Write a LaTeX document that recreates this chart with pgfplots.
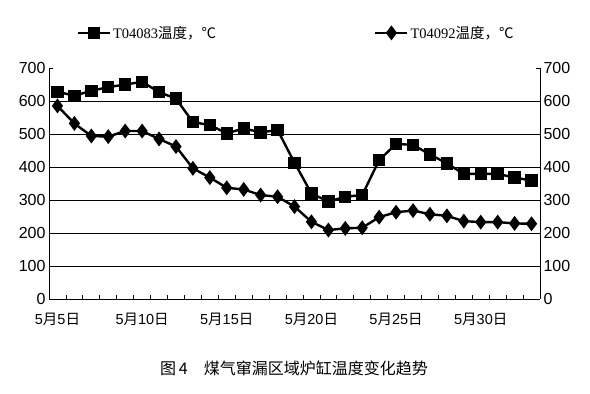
\documentclass[border=0pt]{standalone}
\usepackage{pgfplots}
\pgfplotsset{compat=1.18}
\usepackage{fontspec}
\setmainfont{Liberation Sans}
\newfontfamily\cjk{Noto Sans CJK SC}
\newfontfamily\lser{Liberation Serif}
\begin{document}
\begin{tikzpicture}
\useasboundingbox (0,0) rectangle (590bp,394bp);
\begin{axis}[
  at={(49bp,95bp)}, anchor=south west,
  scale only axis, width=491bp, height=231bp,
  xmin=0.5, xmax=29.5, ymin=0, ymax=700,
  axis x line*=bottom, axis y line*=left,
  axis line style={line width=0.8bp, black},
  tick align=inside,
  ytick={0,100,...,600}, extra y ticks={700},
  extra y tick style={grid=none},
  ymajorgrids, grid style={black, line width=0.8bp},
  y tick label style={font=\fontsize{16bp}{18bp}\selectfont},
  /pgf/number format/assume math mode=true,
  ytick style={black, line width=0.8bp},
  major tick length=4bp,
  xtick={1,6,11,16,21,26},
  xticklabels={5{\cjk 月}5{\cjk 日},5{\cjk 月}10{\cjk 日},5{\cjk 月}15{\cjk 日},5{\cjk 月}20{\cjk 日},5{\cjk 月}25{\cjk 日},5{\cjk 月}30{\cjk 日}},
  x tick label style={font=\fontsize{14.5bp}{16bp}\selectfont, yshift=-11bp},
  x tick style={draw=none},
  minor xtick={1.5,2.5,...,28.5},
  minor x tick style={draw=black, line width=0.8bp},
  minor tick length=4bp,
  legend columns=2,
  legend style={at={(rel axis cs:0.05,1.152)}, anchor=west, draw=none, fill=none,
    font=\fontsize{14.5bp}{16bp}\selectfont,
    /tikz/every even column/.append style={column sep=156bp}},
  legend image code/.code={\draw[#1, mark repeat=2, mark phase=2] plot coordinates {(0bp,0bp) (16bp,0bp) (32bp,0bp)};},
]
\addplot[black, line width=2.4bp, mark=square*, mark size=5bp, mark options={solid}] coordinates {
(1,628)(2,616)(3,631)(4,642)(5,650)(6,658)(7,627)(8,607)(9,536)(10,527)
(11,502)(12,517)(13,505)(14,512)(15,413)(16,320)(17,295)(18,310)(19,315)(20,421)
(21,470)(22,467)(23,438)(24,411)(25,379)(26,379)(27,379)(28,368)(29,359)};
\addlegendentry{{\lser T04083}{\cjk 温度，℃}}
\addplot[black, line width=2.4bp, mark=diamond*, mark size=5.5bp, mark options={solid}] coordinates {
(1,585)(2,532)(3,494)(4,492)(5,509)(6,509)(7,485)(8,462)(9,396)(10,368)
(11,337)(12,332)(13,315)(14,310)(15,280)(16,234)(17,209)(18,214)(19,216)(20,248)
(21,263)(22,268)(23,257)(24,252)(25,236)(26,233)(27,233)(28,229)(29,228)};
\addlegendentry{{\lser T04092}{\cjk 温度，℃}}
\end{axis}
\begin{axis}[
  at={(49bp,95bp)}, anchor=south west,
  scale only axis, width=491bp, height=231bp,
  xmin=0.5, xmax=29.5, ymin=0, ymax=700,
  axis x line=none, axis y line*=right,
  axis line style={line width=0.8bp, black},
  tick align=inside, major tick length=4bp,
  ytick={0,100,...,700},
  ytick style={black, line width=0.8bp},
  y tick label style={font=\fontsize{16bp}{18bp}\selectfont},
  /pgf/number format/assume math mode=true,
]
\end{axis}
\node[font=\fontsize{16bp}{18bp}\selectfont\cjk] at (294bp,26bp) {图\,4\quad 煤气窜漏区域炉缸温度变化趋势};
\end{tikzpicture}
\end{document}
